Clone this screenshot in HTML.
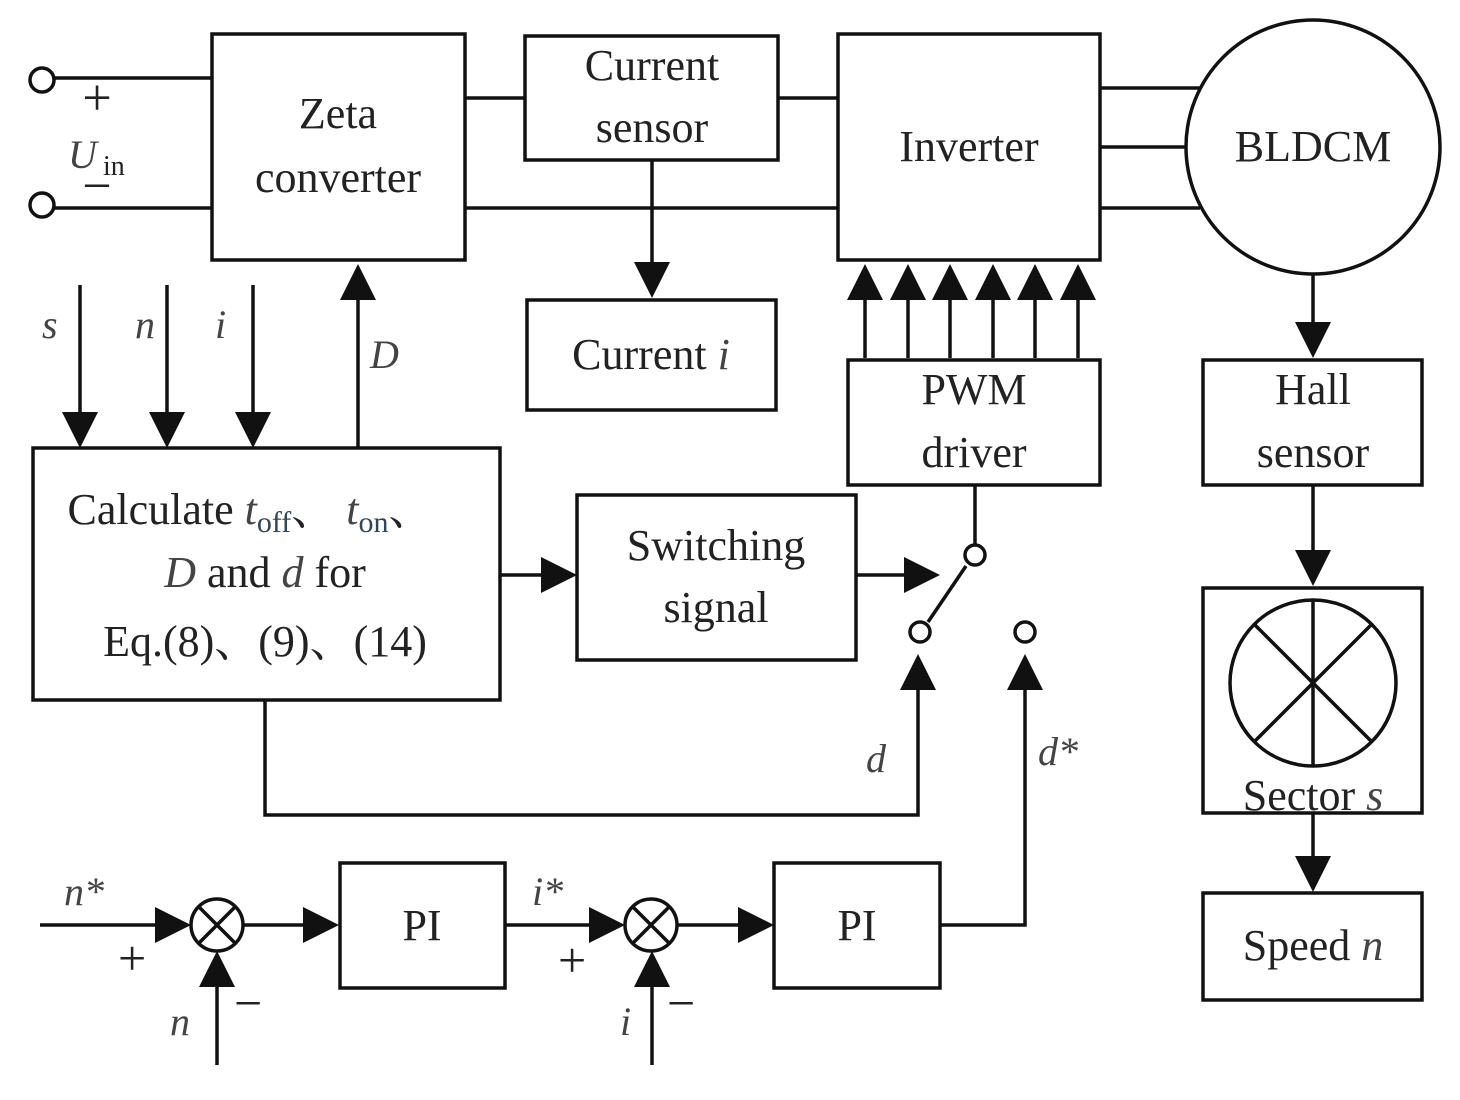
<!DOCTYPE html>
<html><head><meta charset="utf-8"><style>
html,body{margin:0;padding:0;background:#fff;}
svg{display:block;}
text{font-family:"Liberation Serif","Noto Serif CJK SC",serif;fill:#222;}
.i{font-style:italic;fill:#444;}
</style></head><body>
<svg width="1460" height="1100" viewBox="0 0 1460 1100" xmlns="http://www.w3.org/2000/svg">
<g fill="none" stroke="#111" stroke-width="3.5">
<circle cx="42" cy="80" r="12"/><circle cx="42" cy="205" r="12"/>
<line x1="54" y1="78" x2="212" y2="78"/><line x1="54" y1="208" x2="212" y2="208"/>
<rect x="212" y="34" width="253" height="226"/>
<rect x="525" y="36" width="253" height="124"/>
<line x1="465" y1="98" x2="525" y2="98"/><line x1="778" y1="98" x2="838" y2="98"/>
<line x1="465" y1="208" x2="838" y2="208"/>
<rect x="838" y="34" width="262" height="226"/>
<circle cx="1313" cy="147" r="127"/>
<line x1="1100" y1="88" x2="1200" y2="88"/><line x1="1100" y1="147" x2="1186" y2="147"/><line x1="1100" y1="208" x2="1200" y2="208"/>
<line x1="652" y1="160" x2="652" y2="270"/>
<rect x="527" y="300" width="249" height="110"/>
<line x1="865" y1="358" x2="865" y2="290"/><line x1="908" y1="358" x2="908" y2="290"/><line x1="950" y1="358" x2="950" y2="290"/>
<line x1="993" y1="358" x2="993" y2="290"/><line x1="1035" y1="358" x2="1035" y2="290"/><line x1="1078" y1="358" x2="1078" y2="290"/>
<rect x="848" y="360" width="252" height="125"/>
<line x1="975" y1="485" x2="975" y2="545"/>
<circle cx="975" cy="555" r="10"/>
<line x1="966" y1="566" x2="928" y2="622"/>
<circle cx="920" cy="632" r="10"/><circle cx="1025" cy="632" r="10"/>
<rect x="577" y="495" width="279" height="165"/>
<line x1="856" y1="575" x2="910" y2="575"/>
<rect x="33" y="448" width="467" height="252"/>
<line x1="500" y1="575" x2="545" y2="575"/>
<line x1="80" y1="285" x2="80" y2="415"/><line x1="167" y1="285" x2="167" y2="415"/><line x1="253" y1="285" x2="253" y2="415"/>
<line x1="358" y1="448" x2="358" y2="295"/>
<polyline points="265,700 265,815 918,815 918,690"/>
<polyline points="940,925 1025,925 1025,690"/>
<line x1="1313" y1="274" x2="1313" y2="325"/>
<rect x="1203" y="360" width="219" height="125"/>
<line x1="1313" y1="485" x2="1313" y2="552"/>
<rect x="1203" y="588" width="219" height="225"/>
<circle cx="1313" cy="683" r="83"/>
<line x1="1254" y1="624" x2="1372" y2="742"/><line x1="1372" y1="624" x2="1254" y2="742"/>
<line x1="1313" y1="600" x2="1313" y2="766"/>
<line x1="1313" y1="813" x2="1313" y2="858"/>
<rect x="1203" y="893" width="219" height="107"/>
<line x1="40" y1="925" x2="158" y2="925"/>
<circle cx="217" cy="925" r="26"/>
<line x1="199" y1="907" x2="235" y2="943"/><line x1="235" y1="907" x2="199" y2="943"/>
<line x1="217" y1="1065" x2="217" y2="985"/>
<line x1="243" y1="925" x2="305" y2="925"/>
<rect x="340" y="863" width="165" height="125"/>
<line x1="505" y1="925" x2="590" y2="925"/>
<circle cx="651" cy="925" r="26"/>
<line x1="633" y1="907" x2="669" y2="943"/><line x1="669" y1="907" x2="633" y2="943"/>
<line x1="652" y1="1065" x2="652" y2="985"/>
<line x1="677" y1="925" x2="740" y2="925"/>
<rect x="774" y="863" width="166" height="125"/>
</g>
<g fill="#111">
<polygon points="634,262 670,262 652,298"/>
<polygon points="847,300 883,300 865,264"/><polygon points="890,300 926,300 908,264"/><polygon points="932,300 968,300 950,264"/>
<polygon points="975,300 1011,300 993,264"/><polygon points="1017,300 1053,300 1035,264"/><polygon points="1060,300 1096,300 1078,264"/>
<polygon points="904,557 904,593 940,575"/>
<polygon points="541,557 541,593 577,575"/>
<polygon points="62,412 98,412 80,448"/><polygon points="149,412 185,412 167,448"/><polygon points="235,412 271,412 253,448"/>
<polygon points="340,300 376,300 358,264"/>
<polygon points="900,690 936,690 918,654"/>
<polygon points="1007,690 1043,690 1025,654"/>
<polygon points="1295,322 1331,322 1313,358"/>
<polygon points="1295,550 1331,550 1313,586"/>
<polygon points="1295,856 1331,856 1313,892"/>
<polygon points="155,907 155,943 191,925"/>
<polygon points="199,987 235,987 217,951"/>
<polygon points="303,907 303,943 339,925"/>
<polygon points="589,907 589,943 625,925"/>
<polygon points="634,987 670,987 652,951"/>
<polygon points="738,907 738,943 774,925"/>
</g>
<g font-size="44" text-anchor="middle">
<text x="338" y="128">Zeta</text><text x="338" y="192">converter</text>
<text x="652" y="80">Current</text><text x="652" y="142">sensor</text>
<text x="969" y="161">Inverter</text>
<text x="1313" y="161">BLDCM</text>
<text x="651" y="369">Current <tspan class="i">i</tspan></text>
<text x="974" y="404">PWM</text><text x="974" y="467">driver</text>
<text x="716" y="560">Switching</text><text x="716" y="622">signal</text>
<text x="1313" y="404">Hall</text><text x="1313" y="467">sensor</text>
<text x="1313" y="810">Sector <tspan class="i">s</tspan></text>
<text x="1313" y="960">Speed <tspan class="i">n</tspan></text>
<text x="422" y="940">PI</text><text x="857" y="940">PI</text>
<text x="250" y="524">Calculate <tspan class="i">t</tspan><tspan font-size="30" dy="8" fill="#345">off</tspan><tspan dy="-8">、 </tspan><tspan class="i">t</tspan><tspan font-size="30" dy="8" fill="#345">on</tspan><tspan dy="-8">、</tspan></text>
<text x="265" y="587"><tspan class="i">D</tspan> and <tspan class="i">d</tspan> for</text>
<text x="265" y="656">Eq.(8)、(9)、(14)</text>
</g>
<g font-size="40">
<text x="97" y="115" font-size="52" text-anchor="middle">+</text>
<text x="97" y="203" font-size="52" text-anchor="middle">−</text>
<text class="i" x="68" y="168">U</text><text x="103" y="175" font-size="28" fill="#345">in</text>
<text class="i" x="42" y="338">s</text>
<text class="i" x="135" y="338">n</text>
<text class="i" x="215" y="338">i</text>
<text class="i" x="370" y="368">D</text>
<text class="i" x="866" y="772">d</text>
<text class="i" x="1038" y="765">d*</text>
<text class="i" x="64" y="905">n*</text>
<text x="118" y="975" font-size="50">+</text>
<text class="i" x="170" y="1035">n</text>
<text x="234" y="1020" font-size="50">−</text>
<text class="i" x="532" y="905">i*</text>
<text x="558" y="977" font-size="50">+</text>
<text class="i" x="620" y="1035">i</text>
<text x="667" y="1020" font-size="50">−</text>
</g>
</svg>
</body></html>
